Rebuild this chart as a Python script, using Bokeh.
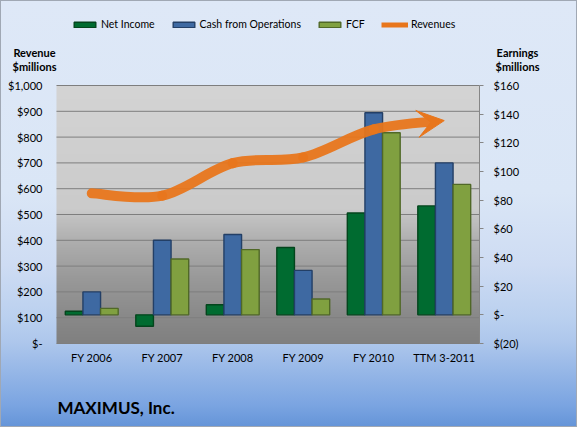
import numpy as np
from bokeh.plotting import figure
from bokeh.models import (Range1d, LinearAxis, FixedTicker, Label, Legend,
                          LegendItem, ColumnDataSource, Arrow, VeeHead)
from bokeh.transform import dodge
from bokeh.embed import file_html
from bokeh.resources import INLINE

# ---------------- data ----------------
categories = ["FY 2006", "FY 2007", "FY 2008", "FY 2009", "FY 2010", "TTM 3-2011"]
net_income = [2.5, -8, 7, 47, 71, 76]          # $ millions (right axis)
cash_from_ops = [16, 52, 56, 31, 141, 106]      # $ millions (right axis)
fcf = [4.5, 39, 45.5, 11, 127, 91]              # $ millions (right axis)
revenues = [582, 573, 699, 721, 830, 864]       # $ millions (left axis)

rev_ticks = [0, 100, 200, 300, 400, 500, 600, 700, 800, 900, 1000]
rev_tick_labels = ["$-", "$100", "$200", "$300", "$400", "$500", "$600", "$700",
                   "$800", "$900", "$1,000"]
earn_ticks = [-20, 0, 20, 40, 60, 80, 100, 120, 140, 160]
earn_tick_labels = ["$(20)", "$-", "$20", "$40", "$60", "$80", "$100", "$120",
                    "$140", "$160"]

# ---------------- layout constants (pixels) ----------------
W, H = 577, 427
PL, PR, PT, PB = 56, 479, 85, 343     # plot-area edges inside the canvas
FONT = "Lato"
GREEN, GREEN_L = "#006B30", "#03451C"
BLUE, BLUE_L = "#3E69A2", "#233F66"
OLIVE, OLIVE_L = "#80A040", "#506827"
ORANGE = "#E8761C"

ncat = len(categories)
xs = [i + 0.5 for i in range(ncat)]

# ranges so that the plot area sits at PL..PR / PT..PB while the frame is the whole canvas
ppx = (PR - PL) / ncat
x_rng = Range1d(-PL / ppx, ncat + (W - PR) / ppx)
r0, r1 = rev_ticks[0], rev_ticks[-1]
ppy = (PB - PT) / (r1 - r0)
y_rng = Range1d(r0 - (H - PB) / ppy, r1 + PT / ppy)
e0, e1 = earn_ticks[0], earn_ticks[-1]
ppe = (PB - PT) / (e1 - e0)
e_rng = Range1d(e0 - (H - PB) / ppe, e1 + PT / ppe)

p = figure(width=W, height=H, x_range=x_rng, y_range=y_rng,
           x_axis_location=None, y_axis_location=None,
           output_backend="svg", toolbar_location=None, min_border=0)
p.extra_y_ranges = {"earn": e_rng}
p.grid.visible = False
p.border_fill_alpha = 0
p.background_fill_alpha = 0
p.outline_line_color = None
p.styles = {
    "background": "linear-gradient(to bottom, #DEE8F7 0%, #DAE6F6 45%, #CEDCF3 62%, "
                  "#BAD0EF 74.5%, #AEC7EC 80%, #7AA4E1 95%, #6494D8 100%)",
    "box-shadow": "inset 0 0 0 1px #A0A8B4",
}

# plot-area gray gradient (background image spanning the plot area)
n_rows = PB - PT
f_top = np.linspace(1, 0, n_rows)  # row 0 = bottom
stops_f = [0.0, 0.48, 0.52, 0.62, 0.75, 0.88, 1.0]
stops_v = [212, 203, 192, 172, 153, 139, 128]
vals = np.interp(f_top, stops_f, stops_v).astype(np.uint32)
img = ((255 << 24) | (vals << 16) | (vals << 8) | vals).reshape(n_rows, 1).astype(np.uint32)
bg = p.image_rgba(image=[img], x=0, y=r0, dw=ncat, dh=r1 - r0)
bg.level = "image"

# horizontal gridlines at the revenue ticks, across the plot area only
grid = p.segment(x0=0, x1=ncat, y0=rev_ticks, y1=rev_ticks,
                 line_color="#7E7E7E", line_width=1)
grid.level = "underlay"

# bars
src = ColumnDataSource(dict(x=xs, ni=net_income, cfo=cash_from_ops, fcf=fcf))
bw = 0.25
r_ni = p.vbar(x=dodge("x", -bw), top="ni", bottom=0, width=bw, source=src,
              y_range_name="earn", fill_color=GREEN, line_color=GREEN_L, line_width=1.4)
r_cfo = p.vbar(x="x", top="cfo", bottom=0, width=bw, source=src, y_range_name="earn",
               fill_color=BLUE, line_color=BLUE_L, line_width=1.4)
r_fcf = p.vbar(x=dodge("x", bw), top="fcf", bottom=0, width=bw, source=src,
               y_range_name="earn", fill_color=OLIVE, line_color=OLIVE_L, line_width=1.4)

# smoothed revenue line (Bezier through the data points) + arrow head
P = np.array(list(zip(xs, revenues)), dtype=float)
E = np.vstack([P[0], P, P[-1]])
segs = []
for i in range(len(P) - 1):
    p0, p1 = P[i], P[i + 1]
    c0 = p0 + (p1 - E[i]) / 6.0
    c1 = p1 - (E[i + 3] - p0) / 6.0
    segs.append([p0, c0, c1, p1])
t = 0.72
a, b, c, d = segs[-1]
q0, q1, q2 = a + (b - a) * t, b + (c - b) * t, c + (d - c) * t
s0, s1 = q0 + (q1 - q0) * t, q1 + (q2 - q1) * t
s = s0 + (s1 - s0) * t
head_from, head_to = c, d
segs[-1] = [a, q0, s0, s]
segs = np.array(segs)
p.bezier(x0=segs[:, 0, 0], y0=segs[:, 0, 1], x1=segs[:, 3, 0], y1=segs[:, 3, 1],
         cx0=segs[:, 1, 0], cy0=segs[:, 1, 1], cx1=segs[:, 2, 0], cy1=segs[:, 2, 1],
         line_color=ORANGE, line_width=10, line_cap="round", line_alpha=0.95)
p.add_layout(Arrow(end=VeeHead(size=27, fill_color=ORANGE, line_color=ORANGE, line_width=1),
                   x_start=head_from[0], y_start=head_from[1],
                   x_end=head_to[0], y_end=head_to[1], line_alpha=0))

# legend proxy for the revenue arrow (no visible data)
r_leg = p.line(x=[np.nan, np.nan], y=[np.nan, np.nan], line_color=ORANGE, line_width=5)

# axes (fixed inside the full-canvas frame)
def style_axis(ax):
    ax.major_label_text_font = FONT
    ax.major_label_text_font_size = "11px"
    ax.major_label_text_color = "#000000"
    ax.minor_tick_line_color = None
    ax.minor_tick_out = 0
    ax.minor_tick_in = 0

ax_l = LinearAxis(fixed_location=0, ticker=FixedTicker(ticks=rev_ticks),
                  major_label_overrides=dict(zip(rev_ticks, rev_tick_labels)))
style_axis(ax_l)
ax_l.axis_line_color = None
ax_l.major_tick_line_color = None
ax_l.major_tick_out = 0
ax_l.major_tick_in = 0
ax_l.major_label_standoff = 14
p.add_layout(ax_l, "left")

ax_r = LinearAxis(fixed_location=ncat, y_range_name="earn", bounds=(e0, e1),
                  ticker=FixedTicker(ticks=earn_ticks),
                  major_label_overrides=dict(zip(earn_ticks, earn_tick_labels)))
style_axis(ax_r)
ax_r.axis_line_color = "#868686"
ax_r.major_tick_line_color = "#868686"
ax_r.major_tick_in = 0
ax_r.major_tick_out = 4
ax_r.major_label_standoff = 10
p.add_layout(ax_r, "right")

ax_b = LinearAxis(fixed_location=r0, ticker=FixedTicker(ticks=xs),
                  major_label_overrides=dict(zip(xs, categories)))
style_axis(ax_b)
ax_b.axis_line_color = None
ax_b.major_tick_line_color = None
ax_b.major_tick_out = 0
ax_b.major_tick_in = 0
ax_b.major_label_standoff = 7
p.add_layout(ax_b, "below")

# legend
legend = Legend(items=[LegendItem(label="Net Income", renderers=[r_ni]),
                       LegendItem(label="Cash from Operations", renderers=[r_cfo]),
                       LegendItem(label="FCF", renderers=[r_fcf]),
                       LegendItem(label="Revenues", renderers=[r_leg])],
                location=(71, H - 30), orientation="horizontal",
                glyph_width=27, glyph_height=7, label_standoff=3, spacing=15,
                padding=0, margin=0, label_height=12,
                label_text_font=FONT, label_text_font_size="10.5px",
                label_text_color="#000000",
                background_fill_alpha=0, border_line_alpha=0)
p.add_layout(legend)

# axis titles and chart title
def lab(x, y, text, size="11px", align="center"):
    p.add_layout(Label(x=x, y=y, x_units="screen", y_units="screen", text=text,
                       text_align=align, text_baseline="middle", text_font=FONT,
                       text_font_style="bold", text_font_size=size, text_color="#000000"))

lab(34, H - 52, "Revenue")
lab(34, H - 66, "$millions")
lab(517, H - 52, "Earnings")
lab(517, H - 66, "$millions")
lab(57, H - 407, "MAXIMUS, Inc.", size="17px", align="left")

open("out.html", "w").write(file_html(p, INLINE))
